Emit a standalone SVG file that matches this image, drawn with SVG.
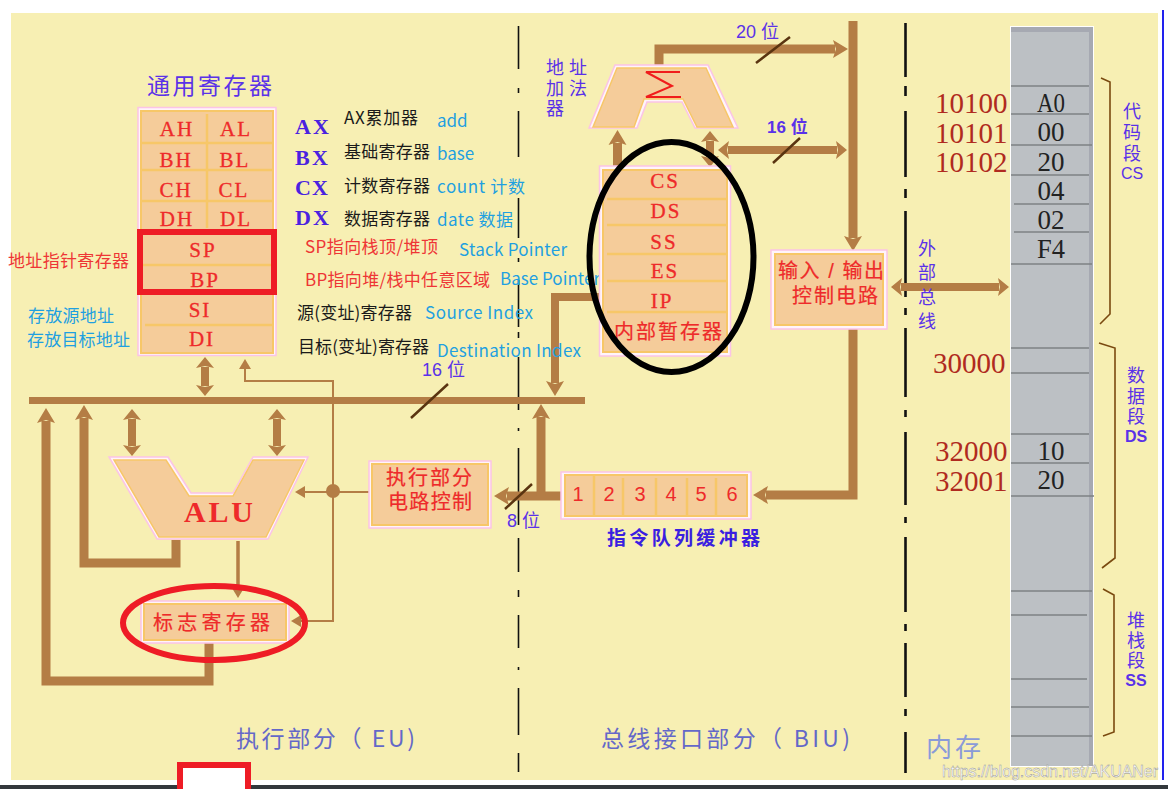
<svg xmlns="http://www.w3.org/2000/svg" width="1168" height="789" viewBox="0 0 1168 789">
<style>
text{font-family:"Noto Sans CJK SC","Liberation Sans",sans-serif}
.ser{font-family:"Liberation Serif","Noto Sans CJK SC",serif}
.lat{font-family:"Liberation Sans","Noto Sans CJK SC",sans-serif}
.reg{fill:#ee2a2a;stroke:#ee2a2a;stroke-width:.3;font-size:21px;text-anchor:middle;letter-spacing:2px}
.blue{fill:#5a32e8;font-size:18px;font-family:"Liberation Sans","Noto Sans CJK SC",sans-serif}
.blk{fill:#1a1a1a;font-size:17px}
.cy{fill:#1fa0e0;font-size:17px}
.red{fill:#ee3535;font-size:17px}
.rn{fill:#ee2a2a;font-size:20px;stroke:#ee2a2a;stroke-width:.2;font-family:"Liberation Sans","Noto Sans CJK SC",sans-serif}
.addr{fill:#b02a20;font-size:29px}
.val{fill:#222;font-size:27px;text-anchor:middle}
.foot{fill:#6468c8;font-size:23px}
.out{fill:#fff4fa;stroke:#fbc4e6;stroke-width:1.5}
.in{fill:#f5cc9a;stroke:#f7c768;stroke-width:2}
.sep{stroke:#f7c768;stroke-width:2.5;fill:none}
.bus{stroke:#b47d45;stroke-width:9;fill:none}
.dbl{stroke:#b47d45;stroke-width:8;fill:none;marker-start:url(#as);marker-end:url(#as)}
.thin{stroke:#b47d45;stroke-width:2;fill:none}
.mid{stroke:#b47d45;stroke-width:3.5;fill:none}
.sl{stroke:#5a3410;stroke-width:2.5;fill:none}
.br{stroke:#7a4a10;stroke-width:1.6;fill:none}
.ml{stroke:#7d8184;stroke-width:1.5;fill:none}
.dash1{stroke:#111;stroke-width:1.6;fill:none}
.dash2{stroke:#111;stroke-width:2.6;fill:none}
.hA{marker-end:url(#ah)}
.hT{marker-end:url(#at)}
.hTT{marker-start:url(#at);marker-end:url(#at)}
</style>
<defs>
<marker id="ah" markerUnits="userSpaceOnUse" markerWidth="18" markerHeight="20" refX="2" refY="10" orient="auto-start-reverse"><path d="M0,1 L15,10 L0,19 L3,10 z" fill="#b47d45"/></marker>
<marker id="as" markerUnits="userSpaceOnUse" markerWidth="13" markerHeight="18" refX="1" refY="9" orient="auto-start-reverse"><path d="M0,0 L11,9 L0,18 L2,9 z" fill="#b47d45"/></marker>
<marker id="at" markerUnits="userSpaceOnUse" markerWidth="12" markerHeight="14" refX="1" refY="7" orient="auto-start-reverse"><path d="M0,1 L10,7 L0,13 z" fill="#b47d45"/></marker>
</defs>
<rect width="1168" height="789" fill="#fff"/>
<rect x="11" y="13" width="1147" height="767" fill="#f7efb3"/>
<rect x="1162" y="10" width="2" height="770" fill="#2222ee"/>
<rect x="0" y="785" width="1168" height="4" fill="#33383c"/>
<path d="M180,789V765H248V789" fill="#fff" stroke="#ee1c25" stroke-width="6"/>

<g id="dividers">
<path class="dash1" d="M518.5,26V69M518.5,88V93M518.5,111V157M518.5,198V238M518.5,258V262M518.5,280V327M518.5,332V338M518.5,357V410M518.5,428V431M518.5,448V525M518.5,538V572M518.5,590V597M518.5,615V648M518.5,667V670M518.5,688V735M518.5,753V772"/>
<path class="dash2" d="M905.5,23V77M905.5,86V96M905.5,111V177M905.5,189V198M905.5,211V297M905.5,308V315M905.5,328V397M905.5,410V417M905.5,432V505M905.5,517V523M905.5,537V612M905.5,624V631M905.5,643V697M905.5,709V716M905.5,732V773"/>
</g>

<g id="memory">
<rect x="1010.5" y="26.5" width="83" height="740" fill="#bcc0c4" stroke="#fff" stroke-width="1"/>
<rect x="1011" y="27" width="82" height="5" fill="#a6a9b2"/>
<rect x="1089" y="27" width="4" height="739" fill="#a6a9b2"/>
<path class="ml" d="M1011,86H1089M1011,114H1089M1011,145H1092M1011,175H1089M1014,204H1089M1014,232H1089M1011,264H1092M1011,348H1089M1011,373H1089M1011,434H1089M1011,463H1089M1011,496H1094M1011,591H1092M1011,615H1087M1011,679H1087M1011,707H1089M1011,736H1092"/>
<text class="val ser" x="1051" y="112" textLength="28" lengthAdjust="spacingAndGlyphs">A0</text>
<text class="val ser" x="1051" y="141">00</text>
<text class="val ser" x="1051" y="171">20</text>
<text class="val ser" x="1051" y="200">04</text>
<text class="val ser" x="1051" y="229">02</text>
<text class="val ser" x="1051" y="258" textLength="28" lengthAdjust="spacingAndGlyphs">F4</text>
<text class="val ser" x="1051" y="460">10</text>
<text class="val ser" x="1051" y="489">20</text>
</g>

<g id="addresses">
<text class="addr ser" x="935" y="113">10100</text>
<text class="addr ser" x="935" y="143">10101</text>
<text class="addr ser" x="935" y="172">10102</text>
<text class="addr ser" x="933" y="373">30000</text>
<text class="addr ser" x="935" y="461">32000</text>
<text class="addr ser" x="935" y="491">32001</text>
</g>

<g id="segments">
<path class="br" d="M1101,78L1110,82V314L1100,324"/>
<path class="br" d="M1099,343L1115,348V558L1102,568"/>
<path class="br" d="M1103,589L1114,595V732L1103,736"/>
<text class="blue" text-anchor="middle"><tspan x="1132" y="118">代</tspan><tspan x="1132" y="139">码</tspan><tspan x="1132" y="160">段</tspan><tspan x="1132" y="179" font-size="16">CS</tspan></text>
<text class="blue" text-anchor="middle"><tspan x="1136" y="382">数</tspan><tspan x="1136" y="403">据</tspan><tspan x="1136" y="423">段</tspan><tspan x="1136" y="442" font-size="16" font-weight="700">DS</tspan></text>
<text class="blue" text-anchor="middle"><tspan x="1136" y="627">堆</tspan><tspan x="1136" y="647">栈</tspan><tspan x="1136" y="667">段</tspan><tspan x="1136" y="686" font-size="16" font-weight="700">SS</tspan></text>
</g>

<g id="connectors">
<path class="bus" style="stroke-width:7" d="M29,400.5H585"/>
<path class="dbl" d="M205,367V386"/>
<path class="thin hTT" d="M245,368V381H333V621H300"/>
<path class="thin hT" d="M370,492H304"/>
<path class="bus hA" d="M209,643V681H46V421"/>
<path class="bus hA" d="M176,540V563H84V418"/>
<path class="dbl" d="M132,419V446"/>
<path class="dbl" d="M277,419V446"/>
<path class="mid hT" d="M238,541V589"/>
<path class="bus hA" d="M562,496H507"/>
<path class="bus hA" d="M541,496V417"/>
<path class="bus hA" d="M659,65V49H835"/>
<path class="bus hA" d="M853,21V238"/>
<path class="dbl" d="M728,150H837"/>
<path class="bus hA" d="M617.5,168V143"/>
<path class="dbl" d="M710,141V157"/>
<path class="bus hA" style="stroke-width:8" d="M603,297H555V383"/>
<path class="bus hA" d="M853,329V495H766"/>
<path class="dbl" d="M901,287H999"/>
<circle cx="333" cy="491" r="7" fill="#b47d45"/>
<path class="sl" d="M411,418L448,384M505,509L532,484M756,63L790,37M773,163L800,138"/>
</g>

<g id="gp-registers">
<rect class="out" x="138" y="107.500" width="138" height="248"/>
<rect class="in" x="141" y="111" width="132" height="242"/>
<path class="sep" d="M141,143H273M141,170H273M141,201H273M141,265H273M145,325H273M207,114V228"/>
<text class="reg ser" x="177" y="136">AH</text><text class="reg ser" x="236" y="136">AL</text>
<text class="reg ser" x="176" y="167">BH</text><text class="reg ser" x="235" y="167">BL</text>
<text class="reg ser" x="176" y="197">CH</text><text class="reg ser" x="234" y="197">CL</text>
<text class="reg ser" x="177" y="226">DH</text><text class="reg ser" x="236" y="226">DL</text>
<text class="reg ser" x="203" y="257">SP</text>
<text class="reg ser" x="205" y="287">BP</text>
<text class="reg ser" x="200" y="317">SI</text>
<text class="reg ser" x="202" y="346">DI</text>
<rect x="140" y="232" width="134" height="60" fill="none" stroke="#ee1c25" stroke-width="6"/>
</g>

<g id="labels-left">
<text x="147" y="94" fill="#5a32e8" font-size="23" textLength="125">通用寄存器</text>
<text class="ser" x="295" y="134" fill="#4a22e0" font-size="22" font-weight="700" textLength="34">AX</text>
<text class="ser" x="295" y="165" fill="#4a22e0" font-size="22" font-weight="700" textLength="33">BX</text>
<text class="ser" x="295" y="195" fill="#4a22e0" font-size="22" font-weight="700" textLength="33">CX</text>
<text class="ser" x="295" y="225" fill="#4a22e0" font-size="22" font-weight="700" textLength="34">DX</text>
<text class="blk" x="344" y="124" textLength="74">AX累加器</text>
<text class="blk" x="344" y="158" textLength="86">基础寄存器</text>
<text class="blk" x="344" y="192" textLength="86">计数寄存器</text>
<text class="blk" x="344" y="225" textLength="86">数据寄存器</text>
<text class="cy" x="437" y="127">add</text>
<text class="cy" x="437" y="160">base</text>
<text class="cy" x="437" y="193" textLength="88">count 计数</text>
<text class="cy" x="437" y="226" textLength="76">date 数据</text>
<text class="red" x="305" y="253" textLength="133">SP指向栈顶/堆顶</text>
<text class="red" x="305" y="286" textLength="185">BP指向堆/栈中任意区域</text>
<text class="cy" x="459" y="256" textLength="108">Stack Pointer</text>
<text class="cy" x="500" y="285" textLength="100">Base Pointer</text>
<text class="blk" x="297" y="319" textLength="115">源(变址)寄存器</text>
<text class="cy" x="425" y="319" textLength="108">Source Index</text>
<text class="blk" x="298" y="353" textLength="131">目标(变址)寄存器</text>
<text class="cy" x="437" y="357" textLength="144">Destination Index</text>
<text class="red" x="8" y="267" textLength="121">地址指针寄存器</text>
<text class="cy" x="28" y="322" textLength="86">存放源地址</text>
<text class="cy" x="27" y="346" textLength="103">存放目标地址</text>
<text class="blue"><tspan x="546" y="74" textLength="41">地址</tspan><tspan x="546" y="95" textLength="41">加法</tspan><tspan x="546" y="115">器</tspan></text>
<text class="blue" x="422" y="376" style="font-size:18px">16 位</text>
<text class="blue" x="507" y="527" style="font-size:18px">8 位</text>
<text class="blue" x="736" y="38" style="font-size:18px">20 位</text>
<text class="blue" x="767" y="133" style="font-size:17px;font-weight:700">16 位</text>
</g>

<g id="alu">
<polygon class="out" points="109,457 168,457 191,493 233,493 253,457 308,457 268,539 157,539"/>
<polygon points="114,460 166,460 189,496 233,496 253,460 304,460 266,537 159,537" fill="#f5cc9a" stroke="#f7c768" stroke-width="1.500"/>
<text class="ser" x="184" y="522" fill="#ee2a2a" font-size="30" font-weight="700" textLength="69">ALU</text>
</g>

<g id="flags">
<rect class="out" x="141" y="601" width="148" height="42"/>
<rect class="in" x="144" y="604" width="142" height="36"/>
<text class="rn" x="153" y="630" textLength="117">标志寄存器</text>
<ellipse cx="214" cy="623" rx="91" ry="37" fill="none" stroke="#ee1c25" stroke-width="6"/>
</g>

<g id="exec-control">
<rect class="out" x="369" y="461" width="122" height="67"/>
<rect class="in" x="372" y="464" width="116" height="61"/>
<text class="rn" x="386" y="485" textLength="86">执行部分</text>
<text class="rn" x="388" y="508.500" textLength="84">电路控制</text>
</g>

<g id="queue">
<rect class="out" x="561" y="472" width="190" height="47"/>
<rect class="in" x="565" y="475" width="182" height="41"/>
<path class="sep" d="M594,476V517M623,478V517M656,478V517M687,478V517M716,478V517"/>
<text class="lat" x="578" y="501" fill="#ee2a2a" font-size="20" text-anchor="middle">1</text><text class="lat" x="609" y="501" fill="#ee2a2a" font-size="20" text-anchor="middle">2</text><text class="lat" x="640" y="501" fill="#ee2a2a" font-size="20" text-anchor="middle">3</text><text class="lat" x="671" y="501" fill="#ee2a2a" font-size="20" text-anchor="middle">4</text><text class="lat" x="701" y="501" fill="#ee2a2a" font-size="20" text-anchor="middle">5</text><text class="lat" x="732" y="501" fill="#ee2a2a" font-size="20" text-anchor="middle">6</text>
<text x="607" y="545" fill="#3a20e0" font-size="19" font-weight="700" textLength="153">指令队列缓冲器</text>
</g>

<g id="adder">
<polygon class="out" points="615,65 708,65 738,128 695,128 682,102 647,102 637,128 589,128"/>
<polygon points="617,68 706,68 733,127 697,127 683,99 644,99 634,127 593,127" fill="#f5cc9a" stroke="#f7c768" stroke-width="1.500"/>
<polyline points="680,72 646,72 672,86 646,97 681,97" fill="none" stroke="#f01c1c" stroke-width="2"/>
</g>

<g id="seg-registers">
<rect class="out" x="599.500" y="166" width="131" height="190"/>
<rect class="in" x="603" y="170" width="124" height="182"/>
<path class="sep" d="M607,199H727M607,225H727M607,254H727M607,281H727M607,312H727"/>
<text class="reg ser" x="665" y="188">CS</text>
<text class="reg ser" x="666" y="218">DS</text>
<text class="reg ser" x="664" y="249">SS</text>
<text class="reg ser" x="665" y="278">ES</text>
<text class="reg ser" x="662" y="308">IP</text>
<text class="rn" x="614" y="339" textLength="108">内部暂存器</text>
<ellipse cx="671.500" cy="257" rx="82" ry="115" fill="none" stroke="#000" stroke-width="6"/>
</g>

<g id="io-control">
<rect class="out" x="771" y="250" width="116" height="79"/>
<rect class="in" x="775" y="254" width="108" height="71"/>
<text class="rn" x="778" y="278" textLength="106">输入 / 输出</text>
<text class="rn" x="792" y="303" textLength="86">控制电路</text>
</g>

<g id="bus-label">
<text class="blue" text-anchor="middle"><tspan x="927" y="255">外</tspan><tspan x="927" y="279">部</tspan><tspan x="927" y="304">总</tspan><tspan x="927" y="328">线</tspan></text>
</g>

<g id="footer">
<text class="foot" x="236" y="747" textLength="179">执行部分（ EU)</text>
<text class="foot" x="601" y="747" textLength="249">总线接口部分（ BIU)</text>
<text class="lat" x="926" y="757" fill="#8a9ad8" font-size="26" textLength="55">内存</text>
<text class="lat" x="942" y="777" fill="#fff" stroke="#8d8d8d" stroke-width="0.400" font-size="16" textLength="216">https://blog.csdn.net/AKUANer</text>
</g>
</svg>
